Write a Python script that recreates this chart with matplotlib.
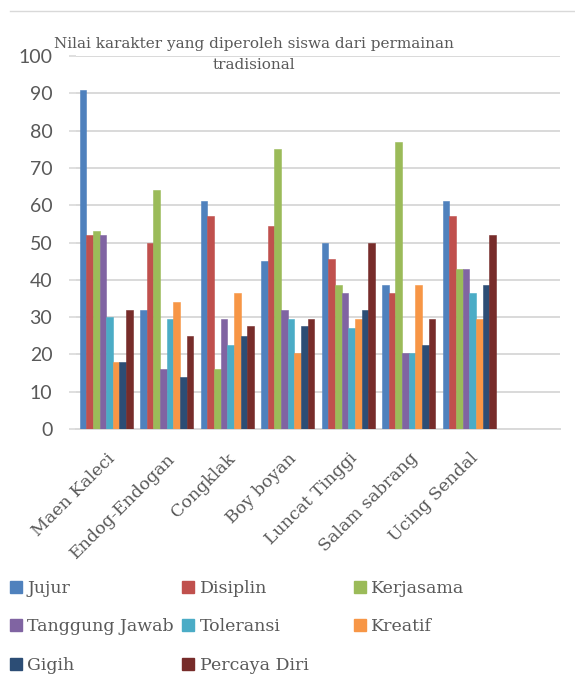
import numpy as np
import matplotlib
matplotlib.use("Agg")
import matplotlib.pyplot as plt
from matplotlib.patches import Patch

# game names (x categories)
games = ["Maen Kaleci", "Endog-Endogan", "Congklak", "Boy boyan",
         "Luncat Tinggi", "Salam sabrang", "Ucing Sendal"]

# character values per trait
jujur = [91, 32, 61, 45, 50, 38.5, 61]
disiplin = [52, 50, 57, 54.5, 45.5, 36.5, 57]
kerjasama = [53, 64, 16, 75, 38.5, 77, 43]
tanggung_jawab = [52, 16, 29.5, 32, 36.5, 20.5, 43]
toleransi = [30, 29.5, 22.5, 29.5, 27, 20.5, 36.5]
kreatif = [18, 34, 36.5, 20.5, 29.5, 38.5, 29.5]
gigih = [18, 14, 25, 27.5, 32, 22.5, 38.5]
percaya_diri = [32, 25, 27.5, 29.5, 50, 29.5, 52]

series_names = ["Jujur", "Disiplin", "Kerjasama", "Tanggung Jawab",
                "Toleransi", "Kreatif", "Gigih", "Percaya Diri"]
series_values = [jujur, disiplin, kerjasama, tanggung_jawab,
                 toleransi, kreatif, gigih, percaya_diri]
colors = ["#4F81BD", "#C0504D", "#9BBB59", "#8064A2",
          "#4BACC6", "#F79646", "#2C4D75", "#772C2A"]

y_ticks = list(range(0, 101, 10))

plt.rcParams['font.family'] = ['DejaVu Serif']
text_color = "#595959"
grid_color = "#d9d9d9"

fig = plt.figure(figsize=(5.75, 6.91), dpi=100)
ax = fig.add_axes([0.132, 0.379, 0.842, 0.540])

x = np.arange(len(games))
bar_w = 0.11
for i, (vals, col) in enumerate(zip(series_values, colors)):
    offs = (i - 3.5) * bar_w
    ax.bar(x + offs, vals, width=bar_w, color=col, edgecolor=col,
           linewidth=0.4, zorder=3)

ax.set_xlim(-0.5, 7.5)
ax.set_ylim(0, 100)
ax.set_yticks(y_ticks)
ax.set_yticklabels([str(t) for t in y_ticks], fontsize=14, color=text_color,
                   family="Lato")
ax.yaxis.grid(True, color=grid_color, linewidth=1.4, zorder=0)
ax.set_xticks(x)
ax.set_xticklabels(games, rotation=45, ha="right", rotation_mode="anchor",
                   fontsize=12.5, color=text_color)
ax.tick_params(axis="x", length=0, pad=15)
ax.tick_params(axis="y", length=5, color=grid_color, width=1.2, pad=12)
for s in ["top", "right", "left"]:
    ax.spines[s].set_visible(False)
ax.spines["bottom"].set_color(grid_color)
ax.spines["bottom"].set_linewidth(1.4)

fig.text(0.442, 0.921, "Nilai karakter yang diperoleh siswa dari permainan\ntradisional",
         ha="center", va="center", fontsize=11, color=text_color,
         linespacing=1.6)

# top border line
fig.add_artist(plt.Line2D([0.017, 1.0], [0.984, 0.984], color=grid_color, lw=1))

# legend laid out row by row in three fixed columns
col_x = [0.005, 0.305, 0.603]
for c in range(3):
    idx = list(range(c, len(series_names), 3))
    handles = [Patch(facecolor=colors[k], edgecolor=colors[k]) for k in idx]
    labels = [series_names[k] for k in idx]
    fig.legend(handles, labels, loc="upper left", bbox_to_anchor=(col_x[c], 0.171),
               ncol=1, frameon=False, fontsize=12.5, labelcolor=text_color,
               handlelength=0.7, handleheight=0.7, handletextpad=0.3,
               labelspacing=1.25, borderaxespad=0)

fig.savefig("out.png", dpi=100)
